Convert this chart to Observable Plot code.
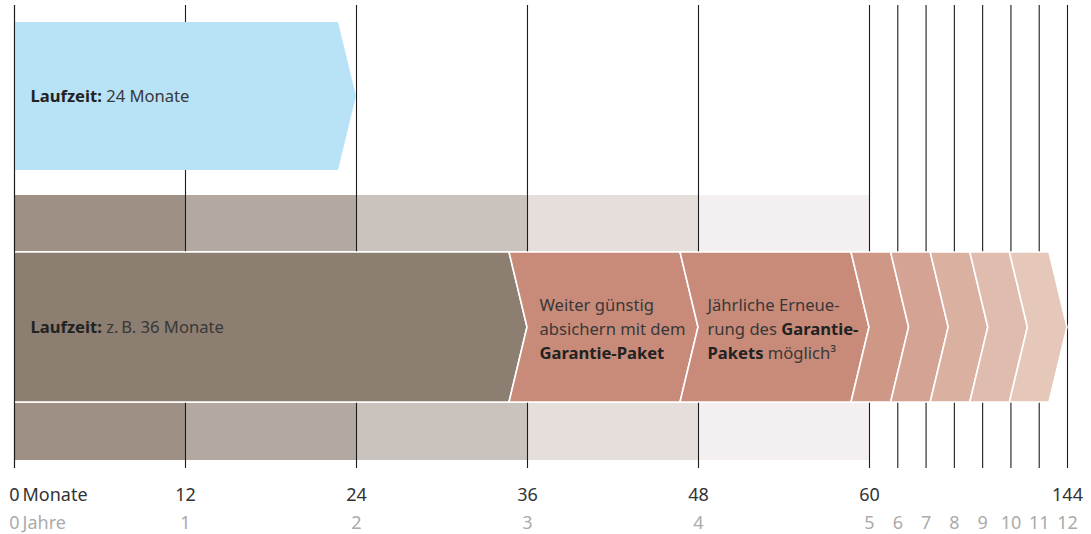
<!DOCTYPE html>
<html><head><meta charset="utf-8">
<script src="https://cdn.jsdelivr.net/npm/d3@7"></script>
<script src="https://cdn.jsdelivr.net/npm/@observablehq/plot@0.6"></script>
<style>html,body{margin:0;padding:0;background:#fff} svg{display:block}</style>
</head><body><div id="chart"></div>
<script>
// ---- data (months) ----
const monthTicks = [0, 12, 24, 36, 48, 60, 144];
const yearTicks = [0, 1, 2, 3, 4, 5, 6, 7, 8, 9, 10, 11, 12];
const yearTickMonths = [0, 12, 24, 36, 48, 60, 72, 84, 96, 108, 120, 132, 144];
const bandNames = ["Jahr 1", "Jahr 2", "Jahr 3", "Jahr 4", "Jahr 5"];
const bandStarts = [0, 12, 24, 36, 48];
const bandEnds = [12, 24, 36, 48, 60];
const contractName = "Laufzeit 24";
const contractEnd = 24;
const stageNames = ["Laufzeit 36", "Garantie-Paket", "Erneuerung 1", "Erneuerung 2", "Erneuerung 3", "Erneuerung 4", "Erneuerung 5", "Erneuerung 6"];
const stageStarts = [0, 36, 48, 60, 76.8, 93.6, 110.4, 127.2];
const stageEnds = [36, 48, 60, 76.8, 93.6, 110.4, 127.2, 144];
const labelTexts = [
  "**Laufzeit:** 24 Monate",
  "**Laufzeit:** z.\u2009B. 36 Monate",
  "Weiter günstig\nabsichern mit dem\n**Garantie-Paket**",
  "Jährliche Erneue-\nrung des **Garantie-**\n**Pakets** möglich³"
];
const labelMonths = [0, 0, 36, 48];
const unitLabels = ["Monate", "Jahre"];

// ---- styles / layout ----
const palette = {
  "Laufzeit 24": "#b8e3f7",
  "Jahr 1": "#9e9085", "Jahr 2": "#b3a9a1", "Jahr 3": "#cac2bd", "Jahr 4": "#e5dedb", "Jahr 5": "#f4eff0",
  "Laufzeit 36": "#8c7e71", "Garantie-Paket": "#c98b79", "Erneuerung 1": "#c98b79",
  "Erneuerung 2": "#ce9786", "Erneuerung 3": "#d4a393", "Erneuerung 4": "#dab0a1",
  "Erneuerung 5": "#dfbcae", "Erneuerung 6": "#e5c8ba"
};
const lane = {blue: [22, 170], top: [195, 251], main: [252, 402], bottom: [403, 460]};
const gridTop = 5, gridBottom = 468, monthRowY = 495, yearRowY = 523;
const depth = 18;
const font = "Noto Sans";
const labelSize = 16.6;

const xOpts = {type: "linear", domain: [0, 60, 144], range: [14, 869, 1067]};
const X = Plot.scale({x: xOpts});
const back = (m, px) => X.invert(X.apply(m) - px);

function chevron(name, a, b, flatLeft, [t, bt]) {
  const m = (t + bt) / 2;
  const l = flatLeft ? a : back(a, depth);
  const r = back(b, depth);
  return [
    {name, y: t, x1: l, x2: r},
    {name, y: m, x1: a, x2: b},
    {name, y: bt, x1: l, x2: r}
  ];
}

const bands = [];
for (const ln of [lane.top, lane.bottom])
  bandNames.forEach((n, i) => bands.push({name: n, x1: bandStarts[i], x2: bandEnds[i], y1: ln[0], y2: ln[1]}));

const blueArrow = chevron(contractName, 0, contractEnd, true, lane.blue);
const stages = stageNames.flatMap((n, i) => chevron(n, stageStarts[i], stageEnds[i], i === 0, lane.main));

const labels = labelTexts.map((t, i) => ({text: t, x: labelMonths[i], y: i === 0 ? (lane.blue[0] + lane.blue[1]) / 2 : (lane.main[0] + lane.main[1]) / 2}));

const svg = Plot.plot({
  width: 1091, height: 534,
  marginTop: 0, marginBottom: 0, marginLeft: 0, marginRight: 0,
  style: {fontFamily: font, background: "#fff"},
  x: {...xOpts, axis: null},
  y: {type: "linear", domain: [0, 534], range: [0, 534], axis: null},
  color: {domain: Object.keys(palette), range: Object.values(palette)},
  marks: [
    Plot.rect(bands, {x1: "x1", x2: "x2", y1: "y1", y2: "y2", fill: "name"}),
    Plot.ruleX(yearTickMonths, {x: d => d, y1: gridTop, y2: gridBottom, stroke: "#1c1c1c", strokeWidth: 1.1}),
    Plot.areaX(blueArrow, {y: "y", x1: "x1", x2: "x2", z: "name", fill: "name", curve: "linear"}),
    Plot.areaX(stages, {y: "y", x1: "x1", x2: "x2", z: "name", fill: "name", stroke: "#fff", strokeWidth: 1.6, curve: "linear"}),
    Plot.ruleX([0], {y1: gridTop, y2: gridBottom, stroke: "#1c1c1c", strokeWidth: 1.1}),
    Plot.text(labels.slice(0, 2), {x: "x", y: "y", text: "text", dx: 16, textAnchor: "start", fontSize: labelSize, fill: "#383838"}),
    Plot.text(labels.slice(2, 3), {x: "x", y: "y", text: "text", dx: 12, textAnchor: "start", fontSize: labelSize, lineHeight: 1.45, fill: "#383838"}),
    Plot.text(labels.slice(3, 4), {x: "x", y: "y", text: "text", dx: 9, textAnchor: "start", fontSize: labelSize, lineHeight: 1.45, fill: "#383838"}),
    Plot.text(monthTicks, {x: d => d, y: monthRowY, text: d => String(d), fontSize: 18, fill: "#333"}),
    Plot.text(yearTickMonths, {x: d => d, y: yearRowY, text: (d, i) => String(yearTicks[i]), fontSize: 18, fill: "#ababab"}),
    Plot.text([unitLabels[0]], {x: 0, y: monthRowY, text: d => d, dx: 8, textAnchor: "start", fontSize: 18, fill: "#333"}),
    Plot.text([unitLabels[1]], {x: 0, y: yearRowY, text: d => d, dx: 8, textAnchor: "start", fontSize: 18, fill: "#ababab"})
  ]
});

// rich text: **bold** segments
const ns = "http://www.w3.org/2000/svg";
svg.querySelectorAll("text").forEach(t => {
  const spans = t.querySelectorAll("tspan");
  const targets = spans.length ? [...spans] : [t];
  targets.forEach(el => {
    const s = el.textContent;
    if (!s.includes("**")) return;
    const parts = s.split("**");
    el.textContent = "";
    parts.forEach((p, i) => {
      if (!p) return;
      const ts = document.createElementNS(ns, "tspan");
      if (i % 2) { ts.setAttribute("font-weight", "bold"); ts.setAttribute("fill", "#222"); }
      ts.textContent = p;
      el.appendChild(ts);
    });
  });
});
document.getElementById("chart").appendChild(svg);
</script>
</body></html>
